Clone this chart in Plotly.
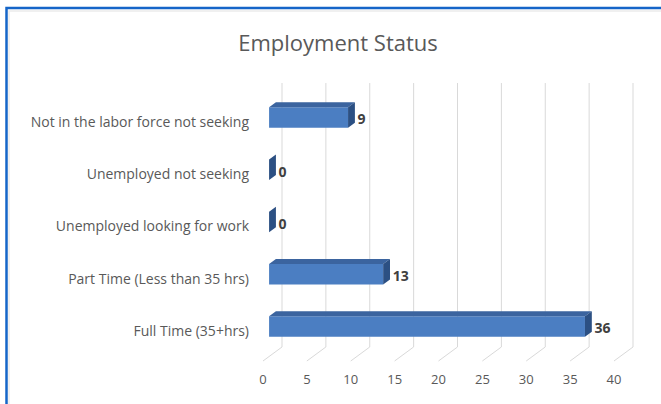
import plotly.graph_objects as go

# data (bottom to top, as drawn)
categories = ["Full Time (35+hrs)", "Part Time (Less than 35 hrs)",
              "Unemployed looking for work", "Unemployed not seeking",
              "Not in the labor force not seeking"]
counts = [36, 13, 0, 0, 9]
x_ticks = [0, 5, 10, 15, 20, 25, 30, 35, 40]

# page geometry (pixels)
W, H = 661, 404
L, R, T, B = 253, 655, 75, 370
x0px, y0px = 263, 331          # pixel of value 0 / first category on the front floor
ppx, ppy = 8.775, 52.25         # pixels per unit
DX, DY = 19 / ppx, 14 / ppy     # full depth offset, in axis units
d_front, d_back = 0.32, 0.68    # where the bars sit in the depth
half_h = 0.195
floor_y = -0.574
wall_top = 4.746

xr = [(L - x0px) / ppx, (R - x0px) / ppx]
yr = [(y0px - B) / ppy, (y0px - T) / ppy]

front_c = "#4b7ec2"
top_c = "#3b649f"
side_c = "#2c5083"
grid_c = "#d9d9d9"
font = "Open Sans"

fig = go.Figure()

# back wall gridlines + floor diagonals
shapes = []
for v in x_ticks:
    shapes.append(dict(type="line", xref="x", yref="y", layer="below",
                       x0=v + DX, x1=v + DX, y0=floor_y + DY, y1=wall_top,
                       line=dict(color=grid_c, width=1)))
    shapes.append(dict(type="line", xref="x", yref="y", layer="below",
                       x0=v, x1=v + DX, y0=floor_y, y1=floor_y + DY,
                       line=dict(color=grid_c, width=1)))

# front faces
fx = d_front * DX
fy = [i + d_front * DY for i in range(len(categories))]
fig.add_trace(go.Bar(orientation="h", x=counts, base=fx, y=fy,
                     width=2 * half_h, marker=dict(color=front_c, line=dict(width=0)),
                     hoverinfo="skip"))

# top and side faces
sdx, sdy = (d_back - d_front) * DX, (d_back - d_front) * DY
tx, ty, sx, sy = [], [], [], []
for v, c in zip(counts, fy):
    top, bot = c + half_h, c - half_h
    tx += [fx, fx + v, fx + v + sdx, fx + sdx, fx, None]
    ty += [top, top, top + sdy, top + sdy, top, None]
    sx += [fx + v, fx + v, fx + v + sdx, fx + v + sdx, fx + v, None]
    sy += [bot, top, top + sdy, bot + sdy, bot, None]
fig.add_trace(go.Scatter(x=tx, y=ty, mode="lines", fill="toself", fillcolor=top_c,
                         line=dict(width=0, color=top_c), hoverinfo="skip"))
fig.add_trace(go.Scatter(x=sx, y=sy, mode="lines", fill="toself", fillcolor=side_c,
                         line=dict(width=0, color=side_c), hoverinfo="skip"))

# data labels
fig.add_trace(go.Scatter(x=[v + d_back * DX + 0.3 for v in counts],
                         y=[i + 0.02 for i in range(len(categories))],
                         mode="text", text=[str(v) for v in counts],
                         textposition="middle right",
                         textfont=dict(family=font, size=14, color="#404040", weight="bold"),
                         hoverinfo="skip"))

# chart border (top and left edges visible)
def px_x(p):
    return (p - L) / (R - L)

def px_y(p):
    return (B - p) / (B - T)

shapes.append(dict(type="path", xref="paper", yref="paper",
                   path=f"M {px_x(9)} {px_y(404)} L {px_x(9)} {px_y(11)} L {px_x(661)} {px_y(11)}",
                   line=dict(color="#ececec", width=1.5)))
shapes.append(dict(type="path", xref="paper", yref="paper",
                   path=f"M {px_x(6.5)} {px_y(404)} L {px_x(6.5)} {px_y(8)} L {px_x(661)} {px_y(8)}",
                   line=dict(color="#1565c8", width=2.5)))

fig.update_layout(
    width=W, height=H,
    margin=dict(l=L, r=W - R, t=T, b=H - B),
    paper_bgcolor="white", plot_bgcolor="white",
    showlegend=False, shapes=shapes,
    title=dict(text="Employment Status", x=338 / W, xanchor="center",
               y=1 - 43 / H, yanchor="middle", yref="container", xref="container",
               font=dict(family=font, size=22, color="#595959")),
    xaxis=dict(range=xr, tickvals=x_ticks, showgrid=False, zeroline=False,
               showline=False, ticks="", fixedrange=True,
               tickfont=dict(family=font, size=13, color="#595959")),
    yaxis=dict(range=yr, tickvals=list(range(len(categories))), ticktext=categories,
               showgrid=False, zeroline=False, showline=False, ticks="",
               ticklabelstandoff=3, fixedrange=True,
               tickfont=dict(family=font, size=14, color="#595959")),
)

fig.write_html("out.html", config={"displayModeBar": False},
               post_script="document.body.style.margin='0';")
